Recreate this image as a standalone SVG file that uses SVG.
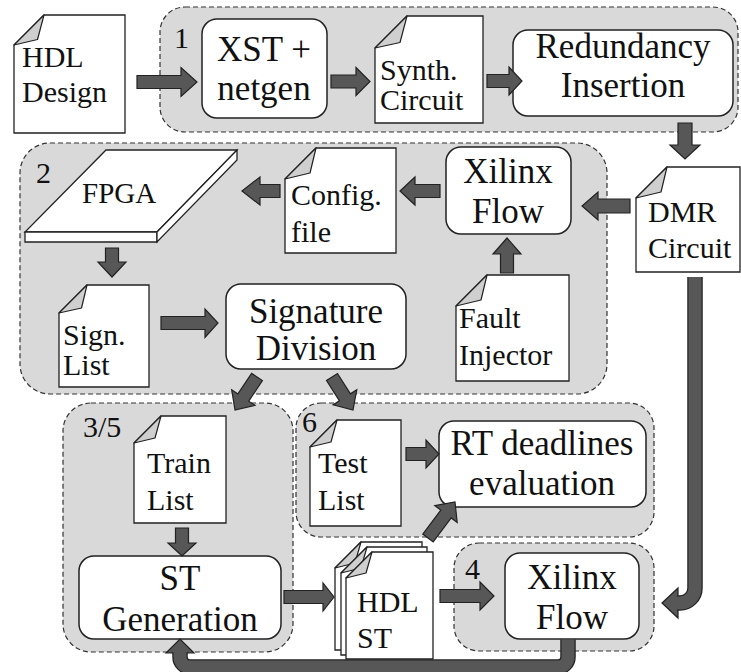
<svg xmlns="http://www.w3.org/2000/svg" width="741" height="672" viewBox="0 0 741 672">
<defs>
<style>
.region{fill:#d9d9d9;stroke:#333;stroke-width:1.2;stroke-dasharray:5 3}
.box{fill:#fff;stroke:#222;stroke-width:1.5}
.doc{fill:#fff;stroke:#222;stroke-width:1.3;stroke-linejoin:miter}
.fold{fill:#cfcfcf;stroke:#222;stroke-width:1.2;stroke-linejoin:round}
.arr{fill:#575757;stroke:#222;stroke-width:1.2}
.shaftO{fill:none;stroke:#222;stroke-width:15.5}
.shaftI{fill:none;stroke:#575757;stroke-width:13}
.d,.b,.lbl{font-family:Liberation Serif,Tinos,DejaVu Serif,Noto Serif,serif;fill:#111}
.d{font-size:30px}
.b{font-size:35px;text-anchor:middle}
.lbl{font-size:30px}
</style>
</defs>
<rect width="741" height="672" fill="#fff"/>

<g id="regions">
<rect id="region1" class="region" x="160" y="7" width="578" height="125" rx="25"/>
<rect id="region2" class="region" x="20" y="143" width="587" height="251" rx="30"/>
<rect id="region35" class="region" x="63" y="403" width="230" height="249" rx="28"/>
<rect id="region6" class="region" x="296" y="403" width="358" height="134" rx="25"/>
<rect id="region4" class="region" x="454" y="543" width="200" height="108" rx="25"/>
</g>

<g font-family="Liberation Serif, serif">
<g id="labels">
<text class="lbl" x="174" y="48">1</text>
<text class="lbl" x="36" y="183">2</text>
<text class="lbl" x="83" y="437">3/5</text>
<text class="lbl" x="302" y="432">6</text>
<text class="lbl" x="465" y="579">4</text>
</g>

<g id="hdl-design">
<path class="doc" d="M44,15 H125 V133 H14 V45 Z"/>
<path class="fold" d="M14,45 L44,15 L37.5,39.5 Z"/>
<text class="d" x="22" y="67">HDL</text>
<text class="d" x="22" y="102">Design</text>
</g>

<g id="xst">
<rect class="box" x="202" y="19" width="125" height="99" rx="15"/>
<text class="b" x="264" y="61">XST +</text>
<text class="b" x="264" y="100">netgen</text>
</g>

<g id="synth">
<path class="doc" d="M407,16 H483 V123 H375 V48 Z"/>
<path class="fold" d="M375,48 L407,16 L400,42.5 Z"/>
<text class="d" x="380" y="80">Synth.</text>
<text class="d" x="380" y="110">Circuit</text>
</g>

<g id="redundancy">
<rect class="box" x="513" y="30" width="220" height="86" rx="15"/>
<text class="b" x="623" y="58">Redundancy</text>
<text class="b" x="623" y="97">Insertion</text>
</g>

<g id="dmr">
<path class="doc" d="M667,167 H740 V272 H636 V198 Z"/>
<path class="fold" d="M636,198 L667,167 L661,192 Z"/>
<text class="d" x="648" y="222">DMR</text>
<text class="d" x="648" y="258">Circuit</text>
</g>

<g id="xilinx1">
<rect class="box" x="446" y="147" width="125" height="87" rx="15"/>
<text class="b" x="508" y="183">Xilinx</text>
<text class="b" x="508" y="223">Flow</text>
</g>

<g id="config">
<path class="doc" d="M316,148 H396 V253 H285 V179 Z"/>
<path class="fold" d="M285,179 L316,148 L310,173 Z"/>
<text class="d" x="291" y="205">Config.</text>
<text class="d" x="291" y="242">file</text>
</g>

<g id="fpga">
<polygon class="doc" points="106,150 237,150 157,232 25,232"/>
<polygon class="doc" points="25,232 157,232 157,242 25,242"/>
<polygon class="doc" points="157,232 237,150 237,160 157,242"/>
<text class="d" x="82" y="203" style="font-size:29px">FPGA</text>
</g>

<g id="fault">
<path class="doc" d="M487,275 H569 V381 H456 V306 Z"/>
<path class="fold" d="M456,306 L487,275 L481,300 Z"/>
<text class="d" x="459" y="328">Fault</text>
<text class="d" x="459" y="365">Injector</text>
</g>

<g id="sign-list">
<path class="doc" d="M87,285 H149 V387 H59 V313 Z"/>
<path class="fold" d="M59,313 L87,285 L81.5,308 Z"/>
<text class="d" x="63" y="345">Sign.</text>
<text class="d" x="63" y="375">List</text>
</g>

<g id="signature">
<rect class="box" x="226" y="284" width="180" height="85" rx="15"/>
<text class="b" x="316" y="323">Signature</text>
<text class="b" x="316" y="360">Division</text>
</g>

<g id="train">
<path class="doc" d="M161,416 H226 V523 H134 V443 Z"/>
<path class="fold" d="M134,443 L161,416 L155,438 Z"/>
<text class="d" x="147" y="473">Train</text>
<text class="d" x="147" y="510">List</text>
</g>

<g id="st-gen">
<rect class="box" x="79" y="556" width="202" height="83" rx="15"/>
<text class="b" x="180" y="590">ST</text>
<text class="b" x="180" y="631">Generation</text>
</g>

<g id="test">
<path class="doc" d="M337,420 H401 V526 H310 V447 Z"/>
<path class="fold" d="M310,447 L337,420 L331,442 Z"/>
<text class="d" x="318" y="473">Test</text>
<text class="d" x="318" y="510">List</text>
</g>

<g id="rt">
<rect class="box" x="439" y="421" width="207" height="86" rx="15"/>
<text class="b" x="542" y="455">RT deadlines</text>
<text class="b" x="542" y="495">evaluation</text>
</g>

<g id="hdl-st">
<path class="doc" d="M361,542 H422 V650 H335 V568 Z"/>
<path class="fold" d="M335,568 L361,542 L355,563 Z"/>
<path class="doc" d="M367,547 H427 V655 H341 V573 Z"/>
<path class="fold" d="M341,573 L367,547 L361,568 Z"/>
<path class="doc" d="M372,552 H433 V659 H346 V578 Z"/>
<path class="fold" d="M346,578 L372,552 L366,573 Z"/>
<text class="d" x="357" y="612">HDL</text>
<text class="d" x="357" y="648">ST</text>
</g>

<g id="xilinx2">
<rect class="box" x="505" y="553" width="134" height="86" rx="15"/>
<text class="b" x="572" y="589">Xilinx</text>
<text class="b" x="572" y="629">Flow</text>
</g>
</g>

<g id="connectors">
<polygon class="arr" points="137,75.5 181,75.5 181,67.5 197,82 181,96.5 181,88.5 137,88.5"/>
<polygon class="arr" points="331,75 356,75 356,67.5 370,81.5 356,95.5 356,88 331,88"/>
<polygon class="arr" points="487,74.5 509,74.5 509,67 522,81 509,95 509,87.5 487,87.5"/>
<polygon class="arr" points="678,123 678,145 670,145 685,159 700,145 692,145 692,123"/>
<polygon class="arr" points="630,199 598,199 598,192 582,206 598,220 598,213 630,213"/>
<polygon class="arr" points="440,184.5 415,184.5 415,177 400,191 415,205 415,197.5 440,197.5"/>
<polygon class="arr" points="280,184.5 260,184.5 260,177 242,191 260,205 260,197.5 280,197.5"/>
<polygon class="arr" points="105.5,248 105.5,262 98,262 112,277 126,262 118.5,262 118.5,248"/>
<polygon class="arr" points="500.5,273 500.5,254 493,254 507,238 521,254 513.5,254 513.5,273"/>
<polygon class="arr" points="161,316.5 205,316.5 205,309 218,323 205,337.5 205,329.5 161,329.5"/>
<polygon class="arr" points="251.59,373.39 237.91,393.91 231.67,389.75 235,410 254.97,405.29 248.73,401.13 262.41,380.61"/>
<polygon class="arr" points="337.48,373.51 350.43,393.86 356.76,389.83 353,410 333.14,404.87 339.47,400.84 326.52,380.49"/>
<polygon class="arr" points="175.5,528 175.5,543 168,543 182,556 196,543 188.5,543 188.5,528"/>
<polygon class="arr" points="406,447.5 426,447.5 426,440 439,454 426,468 426,460.5 406,460.5"/>
<polygon class="arr" points="284,590.5 323,590.5 323,583 334,597 323,611 323,603.5 284,603.5"/>
<polygon class="arr" points="422.8,534.1 440.8,510.1 434.8,505.6 455,502 457.2,522.4 451.2,517.9 433.2,541.9"/>
<polygon class="arr" points="440,589.5 480,589.5 480,582 494,596 480,610 480,602.5 440,602.5"/>
<polygon class="arr" points="678,588 662,603 678,618"/>
<path class="shaftO" d="M695,277 V588 A15 15 0 0 1 680 603 H677"/>
<path class="shaftI" d="M695,277 V588 A15 15 0 0 1 680 603 H677"/>
<polygon class="arr" points="166,653 180,639 194,653"/>
<path class="shaftO" d="M568,639.5 V657 A10 10 0 0 1 558 667 H190 A10 10 0 0 1 180 657 V652"/>
<path class="shaftI" d="M568,639.5 V657 A10 10 0 0 1 558 667 H190 A10 10 0 0 1 180 657 V652"/>
</g>
</svg>
